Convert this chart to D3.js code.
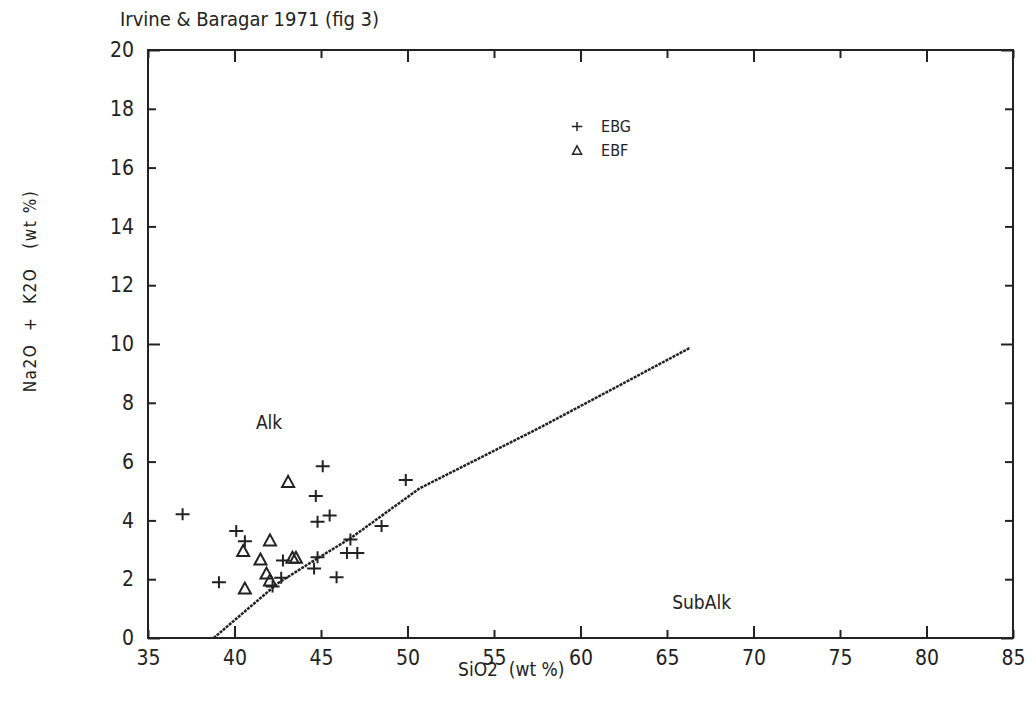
<!DOCTYPE html>
<html>
<head>
<meta charset="utf-8">
<script src="https://cdn.jsdelivr.net/npm/d3@7"></script>
<style>
  body { margin: 0; background: #fff; overflow: hidden; }
  svg { display: block; }
  text { font-family: "DejaVu Sans Condensed", "Liberation Sans Narrow", "DejaVu Sans", sans-serif; fill: #222; }
</style>
</head>
<body>
<div id="chart-div"></div>
<script>
// EBG samples (crosses)
const ebgSiO2 = [45.1, 49.9, 44.7, 37.0, 45.5, 44.8, 48.5, 40.1, 40.6, 46.7, 46.5, 47.1, 42.8, 44.8, 44.6, 45.9, 39.1, 42.7, 42.2];
const ebgAlk  = [5.84, 5.37, 4.83, 4.21, 4.17, 3.95, 3.81, 3.64, 3.29, 3.35, 2.89, 2.89, 2.64, 2.75, 2.36, 2.07, 1.90, 2.05, 1.75];
// EBF samples (triangles)
const ebfSiO2 = [43.1, 42.05, 40.5, 41.5, 43.35, 43.55, 41.85, 42.05, 40.6];
const ebfAlk  = [5.31, 3.32, 2.96, 2.67, 2.73, 2.73, 2.19, 1.96, 1.68];
// alkaline / subalkaline divider
const divSiO2 = [38.8, 42.5, 44.8, 46.7, 50.7, 57.7, 66.3];
const divAlk  = [0, 1.86, 2.71, 3.39, 5.09, 7.17, 9.86];

const xTicks = [35, 40, 45, 50, 55, 60, 65, 70, 75, 80, 85];
const yTicks = [0, 2, 4, 6, 8, 10, 12, 14, 16, 18, 20];

const width = 1036, height = 717;
const margin = { top: 50, right: 23, bottom: 79, left: 148 };
const innerWidth = width - margin.left - margin.right;
const innerHeight = height - margin.top - margin.bottom;
const ink = '#222';

const svg = d3.select('#chart-div').append('svg')
  .attr('width', width).attr('height', height);

const xScale = d3.scaleLinear().domain([35, 85]).range([0, innerWidth]);
const yScale = d3.scaleLinear().domain([0, 20]).range([innerHeight, 0]);

const g = svg.append('g').attr('transform', `translate(${margin.left},${margin.top})`);

// frame
g.append('rect')
  .attr('width', innerWidth).attr('height', innerHeight)
  .attr('fill', 'none').attr('stroke', ink).attr('stroke-width', 2);

const tickLen = v => (v % 10 === 0 ? -12 : -8);

// left axis, labelled
const yAxisG = g.append('g').call(d3.axisLeft(yScale).tickValues(yTicks).tickSize(-8).tickPadding(14));
yAxisG.select('.domain').remove();
yAxisG.selectAll('.tick line').attr('x2', d => -tickLen(d)).attr('stroke', ink).attr('stroke-width', 2);
yAxisG.selectAll('.tick text').attr('font-size', 21).attr('fill', ink)
  .attr('x', -14).attr('font-family', null);

// right axis, ticks only
const yAxisR = g.append('g').attr('transform', `translate(${innerWidth},0)`)
  .call(d3.axisRight(yScale).tickValues(yTicks).tickSize(-8));
yAxisR.select('.domain').remove();
yAxisR.selectAll('.tick text').remove();
yAxisR.selectAll('.tick line').attr('x2', d => tickLen(d)).attr('stroke', ink).attr('stroke-width', 2);

// bottom axis, labelled
const xAxisG = g.append('g').attr('transform', `translate(0,${innerHeight})`)
  .call(d3.axisBottom(xScale).tickValues(xTicks).tickSize(-8).tickPadding(14));
xAxisG.select('.domain').remove();
xAxisG.selectAll('.tick line').attr('y2', d => tickLen(d)).attr('stroke', ink).attr('stroke-width', 2);
xAxisG.selectAll('.tick text').attr('font-size', 21).attr('fill', ink)
  .attr('y', 12).attr('font-family', null);

// top axis, ticks only
const xAxisT = g.append('g')
  .call(d3.axisTop(xScale).tickValues(xTicks).tickSize(-8));
xAxisT.select('.domain').remove();
xAxisT.selectAll('.tick text').remove();
xAxisT.selectAll('.tick line').attr('y2', d => -tickLen(d)).attr('stroke', ink).attr('stroke-width', 2);

// divider line
const line = d3.line().x(d => xScale(d[0])).y(d => yScale(d[1]));
g.append('path')
  .datum(d3.zip(divSiO2, divAlk))
  .attr('d', line)
  .attr('fill', 'none').attr('stroke', ink).attr('stroke-width', 2.5)
  .attr('stroke-dasharray', '3,1');

// markers
const crossPath = 'M-7,0H7M0,-6V6';
const triPath = 'M0,-6L6,5H-6Z';

g.selectAll('.ebg').data(d3.zip(ebgSiO2, ebgAlk))
  .enter().append('path')
  .attr('class', 'ebg')
  .attr('transform', d => `translate(${xScale(d[0])},${yScale(d[1])})`)
  .attr('d', crossPath)
  .attr('fill', 'none').attr('stroke', ink).attr('stroke-width', 2);

g.selectAll('.ebf').data(d3.zip(ebfSiO2, ebfAlk))
  .enter().append('path')
  .attr('class', 'ebf')
  .attr('transform', d => `translate(${xScale(d[0])},${yScale(d[1])})`)
  .attr('d', triPath)
  .attr('fill', 'none').attr('stroke', ink).attr('stroke-width', 2);

// field labels
g.append('text').attr('x', xScale(42)).attr('y', yScale(7.1))
  .attr('text-anchor', 'middle').attr('font-size', 19).text('Alk');
g.append('text').attr('x', xScale(67)).attr('y', yScale(1.0))
  .attr('text-anchor', 'middle').attr('font-size', 19).text('SubAlk');

// legend
const legendItems = [['EBG', crossPath], ['EBF', triPath]];
const legend = g.append('g').attr('transform', `translate(${xScale(59.8)},${yScale(17.4)})`);
legendItems.forEach((it, i) => {
  const row = legend.append('g').attr('transform', `translate(0,${i * 24})`);
  row.append('path').attr('d', it[1]).attr('transform', 'scale(0.75)')
    .attr('fill', 'none').attr('stroke', ink).attr('stroke-width', 2);
  row.append('text').attr('x', 24).attr('y', 6).attr('font-size', 16).text(it[0]);
});

// title and axis titles
svg.append('text').attr('x', 120).attr('y', 26).attr('font-size', 20)
  .text('Irvine & Baragar 1971 (fig 3)');

svg.append('text')
  .attr('x', margin.left + innerWidth * 0.42).attr('y', 676)
  .attr('text-anchor', 'middle').attr('font-size', 19)
  .style('white-space', 'pre')
  .text('SiO2  (wt %)');

svg.append('text')
  .attr('transform', `translate(36,${margin.top + innerHeight * 0.41}) rotate(-90)`)
  .attr('text-anchor', 'middle').attr('font-size', 17)
  .style('white-space', 'pre')
  .attr('letter-spacing', 1.5)
  .text('Na2O  +  K2O   (wt %)');
</script>
</body>
</html>
